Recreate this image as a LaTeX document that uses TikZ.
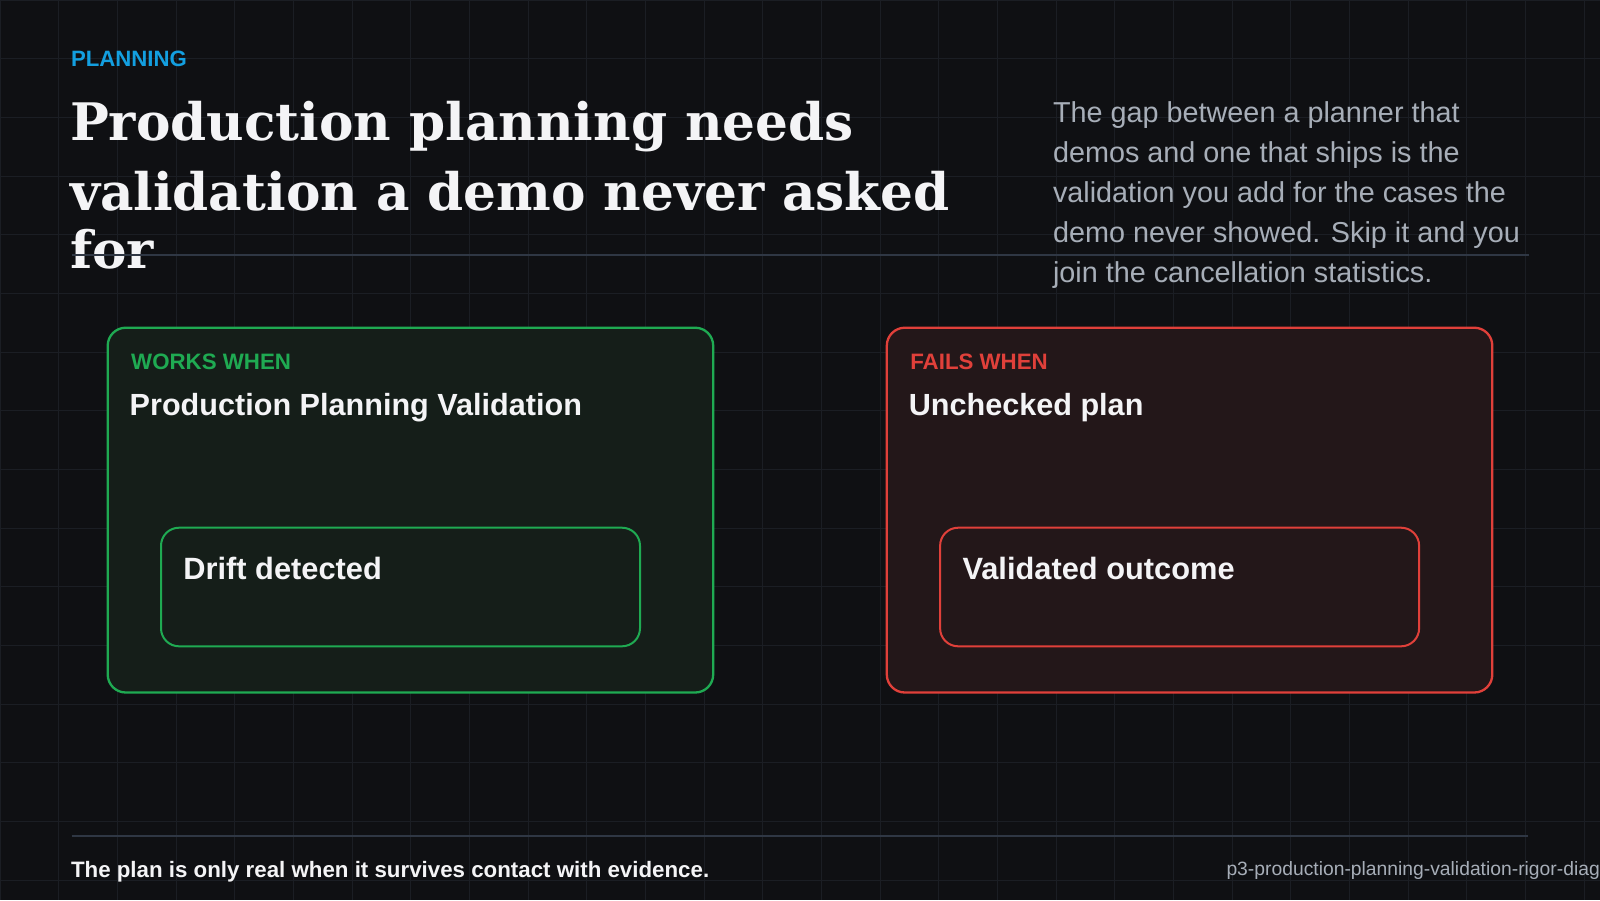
\documentclass[tikz,border=0pt]{standalone}
\usepackage{fontspec}
\setmainfont{Liberation Sans}
\newfontfamily\headserif{DejaVu Serif}
\usepackage{tikz}
\usetikzlibrary{positioning}
\definecolor{pBg}{HTML}{0F1013}
\definecolor{pGrid}{HTML}{1B1E24}
\definecolor{pRule}{HTML}{2F3744}
\definecolor{pBlue}{HTML}{139FE0}
\definecolor{pInk}{HTML}{F4F4F6}
\definecolor{pMuted}{HTML}{A7AEB8}
\definecolor{pGreen}{HTML}{1FAA52}
\definecolor{pGreenFill}{HTML}{151E19}
\definecolor{pRed}{HTML}{E0403A}
\definecolor{pRedFill}{HTML}{231719}
\newcommand\pxsize[1]{\fontsize{#1}{#1}\selectfont}
\tikzset{
  gridline/.style={draw=pGrid, line width=1pt},
  hairrule/.style={draw=pRule, line width=2pt},
  txt/.style={inner sep=0pt, outer sep=0pt, anchor=base west},
  card/.style={rounded corners=18pt, line width=2.3pt, inner sep=0pt, outer sep=0pt, anchor=north west,
    minimum width=605.5pt, minimum height=364.8pt},
  chip/.style={rounded corners=18pt, line width=2pt, inner sep=0pt, outer sep=0pt, anchor=north west,
    minimum width=479pt, minimum height=118.6pt}
}

\begin{document}
\begin{tikzpicture}[x=1pt,y=-1pt]
  \fill[pBg] (0,0) rectangle (1600,900);
  \useasboundingbox (0,0) rectangle (1600,900);
  \foreach \g in {0,58.667,...,1600} \draw[gridline] (\g,0) -- (\g,900);
  \foreach \g in {0,58.667,...,900} \draw[gridline] (0,\g) -- (1600,\g);

  % header
  \node[txt, font=\bfseries\pxsize{22.2}, text=pBlue] (kicker) at (71,66.7) {PLANNING};
  \node[txt, font=\headserif\bfseries\pxsize{51.7}, text=pInk] (title1) at (70,140) {Production planning needs};
  \node[txt, font=\headserif\bfseries\pxsize{51.7}, text=pInk] (title2) at (70,210) {validation a demo never asked};
  \node[txt, font=\headserif\bfseries\pxsize{51.7}, text=pInk] (title3) at (70,268) {for};
  \foreach \ln [count=\i] in {The gap between a planner that, demos and one that ships is the,
      validation you add for the cases the, demo never showed. Skip it and you,
      join the cancellation statistics.}
    \node[txt, font=\pxsize{28.8}, text=pMuted] (para\i) at (1053,{122.3+40*(\i-1)}) {\ln};
  \coordinate (topL) at (71.5,254.5);
  \coordinate (topR) at (1529,254.5);
  \draw[hairrule] (topL) -- (topR);

  % works card
  \node[card, draw=pGreen, fill=pGreenFill] (works) at (107.7,327.7) {};
  \node[txt, font=\bfseries\pxsize{22.3}, text=pGreen] (worksTag) at ([shift={(23.5,41.5)}]works.north west) {WORKS WHEN};
  \node[txt, font=\bfseries\pxsize{30.6}, text=pInk] (worksHead) at ([shift={(22,87.8)}]works.north west) {Production Planning Validation};
  \node[chip, draw=pGreen] (drift) at ([shift={(53.3,200)}]works.north west) {};
  \node[txt, font=\bfseries\pxsize{30.8}, text=pInk] (driftText) at ([shift={(22.4,51.5)}]drift.north west) {Drift detected};

  % fails card
  \node[card, draw=pRed, fill=pRedFill] (fails) at (886.8,327.7) {};
  \node[txt, font=\bfseries\pxsize{22.3}, text=pRed] (failsTag) at ([shift={(23.5,41.5)}]fails.north west) {FAILS WHEN};
  \node[txt, font=\bfseries\pxsize{30.6}, text=pInk] (failsHead) at ([shift={(22,87.8)}]fails.north west) {Unchecked plan};
  \node[chip, draw=pRed] (outcome) at ([shift={(53.3,200)}]fails.north west) {};
  \node[txt, font=\bfseries\pxsize{30.8}, text=pInk] (outcomeText) at ([shift={(22.4,51.5)}]outcome.north west) {Validated outcome};

  % footer
  \coordinate (footL) at (71.5,835.7);
  \coordinate (footR) at (1528.3,835.7);
  \draw[hairrule] (footL) -- (footR);
  \node[txt, font=\bfseries\pxsize{22.3}, text=pInk] (takeaway) at (71,877) {The plan is only real when it survives contact with evidence.};
  \node[txt, font=\pxsize{19.3}, text=pMuted] (slug) at (1226.5,875) {p3-production-planning-validation-rigor-diagram};
\end{tikzpicture}
\end{document}
